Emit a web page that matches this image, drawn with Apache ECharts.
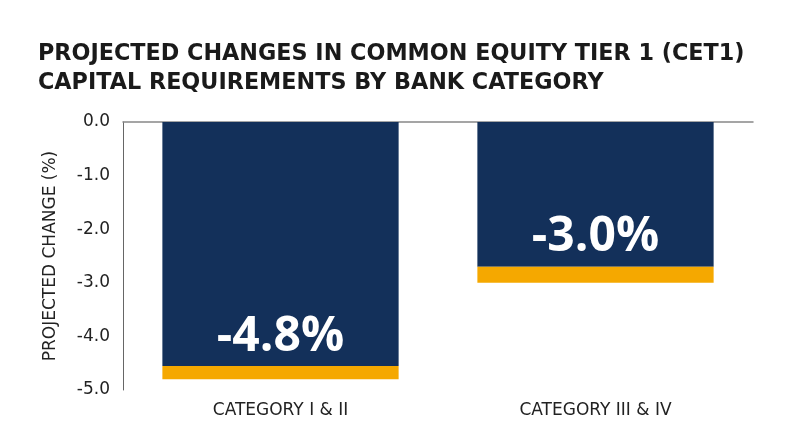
<!DOCTYPE html>
<html>
<head>
<meta charset="utf-8">
<script src="https://cdn.jsdelivr.net/npm/echarts@6/dist/echarts.min.js"></script>
<style>
  html, body { margin: 0; padding: 0; background: #fff; }
  #chart { width: 800px; height: 447px; }
</style>
</head>
<body>
<div id="chart"></div>
<script>
const categories = ['CATEGORY I & II', 'CATEGORY III & IV']
const totals = [-4.8, -3.0]
const baseValues = [-4.55, -2.7]     // navy part
const accentValues = [-0.25, -0.3]   // orange tail
const yTicks = ['0.0', '-1.0', '-2.0', '-3.0', '-4.0', '-5.0']

const wideFont = '"DejaVu Sans", "Liberation Sans", sans-serif'
const labelFont = '"Open Sans", "Liberation Sans", sans-serif'
const textColor = '#222'

const chart = echarts.init(document.getElementById('chart'))
chart.setOption({
  animation: false,
  title: {
    text: 'PROJECTED CHANGES IN COMMON EQUITY TIER 1 (CET1)\nCAPITAL REQUIREMENTS BY BANK CATEGORY',
    left: 33,
    top: 35,
    textStyle: {
      fontFamily: wideFont,
      fontSize: 22.3,
      fontWeight: 'bold',
      color: '#1a1a1a',
      lineHeight: 29
    }
  },
  grid: {
    left: 123,
    right: 47,
    top: 122,
    bottom: 57
  },
  xAxis: [{
    type: 'category',
    data: categories,
    position: 'bottom',
    axisLine: { show: false, onZero: false },
    axisTick: { show: false },
    axisLabel: {
      fontFamily: wideFont,
      fontSize: 17,
      color: textColor,
      margin: 12
    }
  }, {
    type: 'category',
    data: categories,
    position: 'top',
    axisLine: { show: true, onZero: false, lineStyle: { color: '#888', width: 1.5 } },
    axisTick: { show: false },
    axisLabel: { show: false }
  }],
  yAxis: {
    type: 'value',
    min: -5,
    max: 0,
    interval: 1,
    name: 'PROJECTED CHANGE (%)',
    nameLocation: 'middle',
    nameGap: 64,
    nameTextStyle: {
      fontFamily: wideFont,
      fontSize: 17,
      color: textColor
    },
    axisLine: { show: true, lineStyle: { color: '#666', width: 1 } },
    axisTick: { show: false },
    splitLine: { show: false },
    axisLabel: {
      fontFamily: wideFont,
      fontSize: 17,
      color: textColor,
      margin: 13,
      formatter: function (v) {
        return yTicks[Math.round(-v)]
      }
    }
  },
  series: [{
    name: 'base',
    type: 'bar',
    stack: 'total',
    barWidth: '75%',
    data: baseValues,
    itemStyle: { color: '#13305a' },
    label: {
      show: true,
      position: 'insideBottom',
      distance: 5,
      fontFamily: labelFont,
      fontSize: 48,
      fontWeight: 700,
      color: '#fff',
      formatter: function (p) {
        return totals[p.dataIndex].toFixed(1) + '%'
      }
    }
  }, {
    name: 'accent',
    type: 'bar',
    stack: 'total',
    barWidth: '75%',
    data: accentValues,
    itemStyle: { color: '#f5a800' }
  }]
})
</script>
</body>
</html>
